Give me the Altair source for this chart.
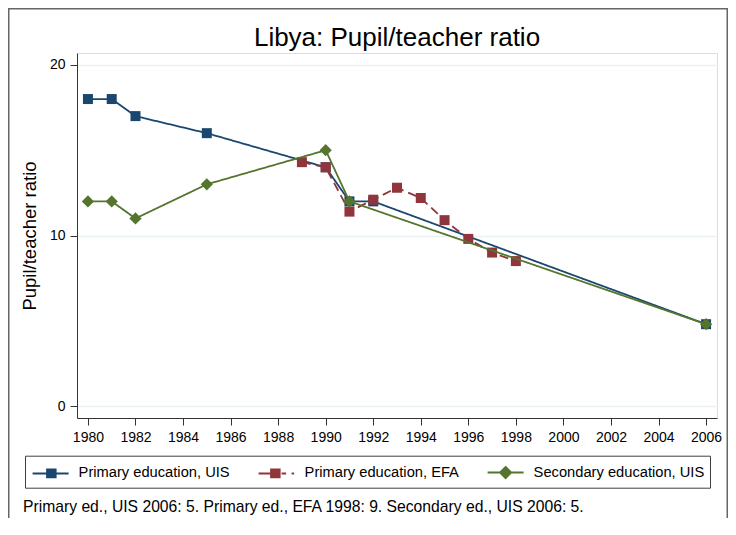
import altair as alt
import pandas as pd

# ---- data ----
years_uis = [1980, 1981, 1982, 1985, 1990, 1991, 1992, 2006]
primary_uis = [18.0, 18.0, 17.0, 16.0, 14.0, 12.0, 12.0, 4.8]
years_efa = [1989, 1990, 1991, 1992, 1993, 1994, 1995, 1996, 1997, 1998]
primary_efa = [14.3, 14.0, 11.4, 12.1, 12.8, 12.2, 10.9, 9.8, 9.0, 8.5]
years_sec = [1980, 1981, 1982, 1985, 1990, 1991, 2006]
secondary_uis = [12.0, 12.0, 11.0, 13.0, 15.0, 12.0, 4.8]

series_names = ["Primary education, UIS", "Primary education, EFA", "Secondary education, UIS"]
series_colors = ["#1a476f", "#90353b", "#55752f"]
x_ticks = list(range(1980, 2007, 2))
y_ticks = [0, 10, 20]
chart_title = "Libya: Pupil/teacher ratio"
y_title = "Pupil/teacher ratio"
note_text = "Primary ed., UIS 2006: 5. Primary ed., EFA 1998: 9. Secondary ed., UIS 2006: 5."

FONT = "Liberation Sans"

rows = []
for name, ys, vs in zip(series_names, [years_uis, years_efa, years_sec],
                        [primary_uis, primary_efa, secondary_uis]):
    for y, v in zip(ys, vs):
        rows.append({"series": name, "year": y, "value": v})
df = pd.DataFrame(rows)

x_enc = alt.X("year:Q",
              scale=alt.Scale(domain=[1979.54, 2006.46], nice=False, zero=False),
              axis=alt.Axis(values=x_ticks, format="d", title=None, grid=False,
                            tickSize=7, labelPadding=5, labelFontSize=14, labelFont=FONT,
                            labelColor="black", domainColor="#333", tickColor="#333",
                            labelFlush=False, labelOverlap=False))
y_enc = alt.Y("value:Q",
              scale=alt.Scale(domain=[-0.7, 20.7], nice=False, zero=False),
              axis=alt.Axis(values=y_ticks, title=y_title, grid=True, gridColor="#eaf2f3",
                            gridWidth=1.5, tickSize=7, labelPadding=5, labelFontSize=14,
                            labelFont=FONT, labelColor="black", domainColor="#333",
                            tickColor="#333", titleFont=FONT, titleFontSize=18.5,
                            titleFontWeight="normal", titleColor="black", titlePadding=10))

shapes = ["square", "square", "diamond"]
sizes = [100, 100, 150]
dashes = [[1, 0], [9, 5], [1, 0]]

layers = []
for i, name in enumerate(series_names):
    base = alt.Chart(df).transform_filter(alt.datum.series == name)
    line = base.mark_line(color=series_colors[i], strokeWidth=1.8,
                          strokeDash=dashes[i]).encode(x=x_enc, y=y_enc)
    pts = base.mark_point(shape=shapes[i], size=sizes[i], filled=True,
                          color=series_colors[i], opacity=1).encode(x="year:Q", y="value:Q")
    layers += [line, pts]

# legend symbols: line + marker as custom paths
legend_paths = [
    "M-1.8,0H1.8M-0.35,-0.38H0.5V0.38H-0.35Z",
    "M-1.8,0H-0.55M0.5,0H0.95M1.5,0H1.75M-0.55,-0.38H0.3V0.38H-0.55Z",
    "M-1.8,0H1.8M0,-0.55L0.55,0L0,0.55L-0.55,0Z",
]
leg = alt.Legend(title=None, orient="none", legendX=-52, legendY=402.7,
                 direction="horizontal", columns=3, columnPadding=24,
                 symbolSize=400, symbolStrokeWidth=2, symbolOffset=9, labelOffset=17,
                 labelFontSize=14.7, labelFont=FONT, labelColor="black", labelLimit=0,
                 padding=5.6, strokeColor="#404040", fillColor="white")
legend_layer = alt.Chart(df).transform_filter("datum.year < 0").mark_point(
    filled=True, opacity=1).encode(
    fill=alt.Fill("series:N", scale=alt.Scale(domain=series_names, range=series_colors), legend=leg),
    stroke=alt.Stroke("series:N", scale=alt.Scale(domain=series_names, range=series_colors), legend=leg),
    shape=alt.Shape("series:N", scale=alt.Scale(domain=series_names, range=legend_paths), legend=leg),
)

note = alt.Chart(pd.DataFrame({"note": [note_text]})).mark_text(
    align="left", baseline="middle", fontSize=15.7, font=FONT, color="black").encode(
    x=alt.value(-54), y=alt.value(454), text="note:N")

border = alt.Chart(pd.DataFrame({"a": [0]})).mark_rect(
    fillOpacity=0, stroke="#666666", strokeWidth=1.5).encode(
    x=alt.value(-68.25), x2=alt.value(650.25), y=alt.value(-44.25), y2=alt.value(480))

chart = alt.layer(*layers, legend_layer, note, border).properties(
    width=640, height=365,
    title=alt.TitleParams(chart_title, fontSize=26, font=FONT, fontWeight="normal",
                          anchor="middle", frame="group", offset=0, dy=43, color="black"),
    autosize=alt.AutoSizeParams(type="none"),
    padding={"left": 69, "top": 45, "right": 11, "bottom": 100},
).configure_view(stroke=None).configure(background="white")

chart.save("out.html", embed_options={"renderer": "svg", "actions": False})
